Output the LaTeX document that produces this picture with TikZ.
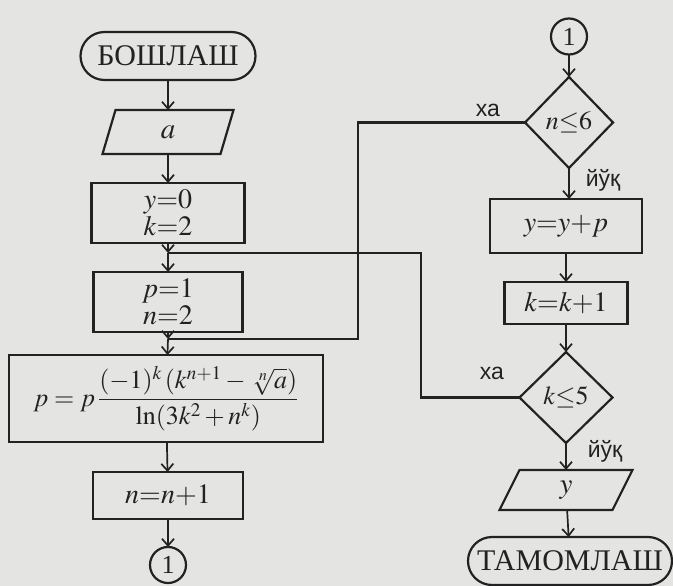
\documentclass[tikz,border=0pt]{standalone}
\usepackage{mathptmx}
\usepackage{fontspec}
\setmainfont{Liberation Serif}
\newfontfamily\lblfont{Liberation Sans}
\usetikzlibrary{shapes.geometric,shapes.misc,arrows.meta}
\definecolor{bg}{RGB}{228,228,226}
\definecolor{ink}{RGB}{34,34,34}
\begin{document}
\begin{tikzpicture}[x=1pt,y=-1pt,
  every node/.style={inner sep=0pt, outer sep=0pt, text=ink},
  box/.style={draw=ink, line width=2.2pt, rectangle, align=center, font=\fontsize{28}{26}\selectfont},
  term/.style={draw=ink, line width=2.2pt, rounded rectangle, minimum height=48pt, font=\fontsize{30}{30}\selectfont},
  dia/.style={draw=ink, line width=2.2pt, diamond, font=\fontsize{26}{28}\selectfont},
  conn/.style={draw=ink, line width=2.2pt, circle, minimum size=36pt, font=\fontsize{26}{28}\selectfont},
  iobox/.style={rectangle, font=\fontsize{29}{30}\selectfont},
  flow/.style={draw=ink, line width=1.7pt, -{Straight Barb[length=7pt,width=12pt]}},
  loopline/.style={draw=ink, line width=2.2pt},
  lbl/.style={font=\lblfont\fontsize{23}{24}\selectfont},
]
\useasboundingbox (0,0) rectangle (673,586);
\fill[bg] (0,0) rectangle (673,586);

% left column
\node[term, minimum width=175pt] (start) at (168,56) {БОШЛАШ};
\node[iobox, minimum width=118pt, minimum height=44pt] (pa) at (168,132) {$a$};
\draw[ink, line width=2.2pt] ([xshift=6.5pt]pa.north west) -- ([xshift=6.5pt]pa.north east)
  -- ([xshift=-6.5pt]pa.south east) -- ([xshift=-6.5pt]pa.south west) -- cycle;
\node[box, minimum width=153pt, minimum height=60pt] (b1) at (168,213) {$y{=}0$\\[1pt]$k{=}2$};
\coordinate (j1) at (168,253);
\node[box, minimum width=149pt, minimum height=60pt] (b2) at (168,302) {$p{=}1$\\[1pt]$n{=}2$};
\coordinate (j2) at (168,339);
\node[box, minimum width=314pt, minimum height=87pt, font=\fontsize{26}{28}\selectfont] (b3) at (166,398.5)
  {$\displaystyle p = p\,\frac{(-1)^k\,(k^{n+1} -\, \sqrt[n]{a})}{\ln(3k^2 + n^k)}$};
\node[box, minimum width=150pt, minimum height=47pt] (b4) at (168,495.5) {$n{=}n{+}1$};
\node[conn] (c1) at (168,565) {1};

\draw[flow] (start) -- (pa);
\draw[flow] (pa) -- (b1);
\draw[flow] (b1) -- (j1);
\draw[flow] (j1) -- (b2);
\draw[flow] (b2) -- (j2);
\draw[flow] (j2) -- (b3);
\draw[flow] (b3) -- (b4);
\draw[flow] (b4) -- (c1);

% right column
\node[conn] (c2) at (569,36.5) {1};
\node[dia, minimum width=88pt, minimum height=91pt] (d1) at (569,122.5) {$n{\le}6$};
\node[box, minimum width=152pt, minimum height=54pt] (b5) at (566,226) {$y{=}y{+}p$};
\node[box, minimum width=123pt, minimum height=42pt] (b6) at (566,303) {$k{=}k{+}1$};
\node[dia, minimum width=93pt, minimum height=91pt] (d2) at (566,397.5) {$k{\le}5$};
\node[iobox, minimum width=113pt, minimum height=40pt] (py) at (566,490) {$y$};
\draw[ink, line width=2.2pt] ([xshift=10pt]py.north west) -- ([xshift=10pt]py.north east)
  -- ([xshift=-10pt]py.south east) -- ([xshift=-10pt]py.south west) -- cycle;
\node[term, minimum width=204pt] (stop) at (570,561) {ТАМОМЛАШ};

\draw[flow] (c2) -- (d1);
\draw[flow] (d1.south) -- (d1.south |- b5.north);
\draw[flow] (b5.south -| b6.north) -- (b6);
\draw[flow] (b6) -- (d2);
\draw[flow] (d2) -- (py);
\draw[flow] (py) -- (stop);

% loops
\coordinate (k1) at (358,339);
\coordinate (k2) at (421,253);
\draw[loopline] (d1.west) -| (k1) -- (j2);
\draw[loopline] (d2.west) -| (k2) -- (j1);

% labels
\node[lbl] (ha1) at (488,110) {ха};
\node[lbl] (yo1) at (603,180) {йўқ};
\node[lbl] (ha2) at (492,373) {ха};
\node[lbl] (yo2) at (605,451) {йўқ};
\end{tikzpicture}
\end{document}
